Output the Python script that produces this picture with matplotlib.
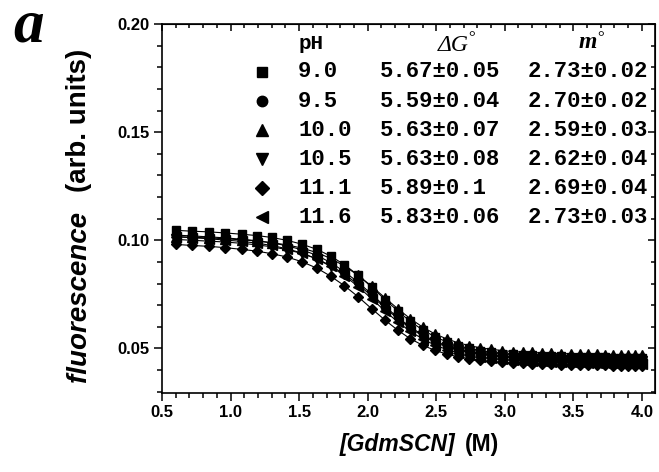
import matplotlib
matplotlib.use("Agg")
import matplotlib.pyplot as plt
from matplotlib.ticker import MultipleLocator, FormatStrFormatter

# GdmSCN concentration (M)
x = [0.60, 0.72, 0.84, 0.96, 1.08, 1.19, 1.30, 1.41, 1.52, 1.63,
     1.73, 1.83, 1.93, 2.03, 2.13, 2.22, 2.31, 2.40, 2.49, 2.58,
     2.66, 2.74, 2.82, 2.90, 2.98, 3.06, 3.13, 3.20, 3.27, 3.34,
     3.41, 3.48, 3.55, 3.61, 3.67, 3.73, 3.79, 3.85, 3.90, 3.95, 4.00]

ph_90 = [.1046, .1042, .1039, .1034, .1028, .1022, .1013, .1000, .0982, .0958,
         .0927, .0887, .0839, .0783, .0724, .0673, .0625, .0586, .0554, .0529,
         .0512, .0500, .0490, .0482, .0476, .0472, .0470, .0468, .0466, .0465,
         .0463, .0462, .0461, .0460, .0459, .0458, .0457, .0457, .0456, .0456, .0455]
ph_95 = [.1024, .1020, .1016, .1011, .1005, .0998, .0988, .0975, .0956, .0930,
         .0897, .0855, .0806, .0750, .0692, .0643, .0599, .0563, .0534, .0511,
         .0496, .0486, .0477, .0470, .0465, .0461, .0459, .0457, .0455, .0454,
         .0453, .0451, .0451, .0450, .0449, .0448, .0447, .0447, .0446, .0446, .0445]
ph_100 = [.1017, .1014, .1011, .1007, .1002, .0997, .0989, .0979, .0964, .0943,
          .0916, .0881, .0838, .0787, .0732, .0683, .0638, .0599, .0567, .0543,
          .0526, .0513, .0503, .0496, .0490, .0485, .0483, .0481, .0479, .0477,
          .0476, .0475, .0474, .0473, .0472, .0471, .0470, .0470, .0469, .0469, .0468]
ph_105 = [.1004, .1000, .0996, .0992, .0986, .0979, .0970, .0957, .0939, .0914,
          .0883, .0844, .0796, .0742, .0686, .0637, .0594, .0558, .0529, .0506,
          .0492, .0481, .0472, .0466, .0460, .0456, .0454, .0452, .0450, .0449,
          .0448, .0446, .0446, .0445, .0444, .0443, .0442, .0442, .0441, .0441, .0440]
ph_111 = [.0981, .0976, .0972, .0966, .0958, .0950, .0938, .0923, .0901, .0871,
          .0834, .0790, .0739, .0683, .0629, .0584, .0545, .0515, .0491, .0473,
          .0461, .0453, .0445, .0440, .0436, .0433, .0431, .0429, .0428, .0427,
          .0425, .0424, .0423, .0422, .0421, .0421, .0420, .0420, .0419, .0419, .0418]
ph_116 = [.1016, .1012, .1007, .1001, .0995, .0987, .0976, .0961, .0941, .0914,
          .0879, .0837, .0786, .0729, .0671, .0622, .0579, .0544, .0515, .0494,
          .0479, .0469, .0461, .0454, .0450, .0446, .0444, .0442, .0440, .0439,
          .0437, .0436, .0435, .0434, .0433, .0433, .0432, .0432, .0431, .0431, .0430]

series = [ph_90, ph_95, ph_100, ph_105, ph_111, ph_116]
ph_labels = ["9.0", "9.5", "10.0", "10.5", "11.1", "11.6"]
dg_labels = ["5.67±0.05", "5.59±0.04", "5.63±0.07", "5.63±0.08", "5.89±0.1", "5.83±0.06"]
m_labels = ["2.73±0.02", "2.70±0.02", "2.59±0.03", "2.62±0.04", "2.69±0.04", "2.73±0.03"]
markers = ["s", "o", "^", "v", "D", "<"]
msizes = [5.5, 6, 6.5, 6.5, 5.5, 6.5]

fig = plt.figure(figsize=(6.59, 4.72), dpi=100)
ax = fig.add_axes([0.2458, 0.168, 0.748, 0.781])

for y, mk, ms in zip(series, markers, msizes):
    ax.plot(x, y, color="black", lw=0.8, marker=mk, ms=ms,
            mfc="black", mec="black")

ax.set_xlim(0.5, 4.095)
ax.set_ylim(0.0295, 0.20)
ax.xaxis.set_major_locator(MultipleLocator(0.5))
ax.xaxis.set_minor_locator(MultipleLocator(0.1))
ax.yaxis.set_major_locator(MultipleLocator(0.05))
ax.yaxis.set_minor_locator(MultipleLocator(0.01))
ax.xaxis.set_major_formatter(FormatStrFormatter("%.1f"))
ax.yaxis.set_major_formatter(FormatStrFormatter("%.2f"))
ax.tick_params(which="both", direction="out", top=False, right=False, width=1.1)
ax.tick_params(which="major", length=6, pad=3)
ax.tick_params(which="minor", length=3.5)
for lab in ax.get_xticklabels() + ax.get_yticklabels():
    lab.set_fontfamily("Liberation Sans")
    lab.set_fontweight("bold")
    lab.set_fontsize(12)
for s in ax.spines.values():
    s.set_linewidth(1.2)

# inward ticks on top and right
sec_x = ax.secondary_xaxis("top")
sec_x.xaxis.set_major_locator(MultipleLocator(0.5))
sec_x.xaxis.set_minor_locator(MultipleLocator(0.1))
sec_x.tick_params(which="both", direction="in", labeltop=False, width=1.1)
sec_x.tick_params(which="major", length=5)
sec_x.tick_params(which="minor", length=3)
sec_y = ax.secondary_yaxis("right")
sec_y.yaxis.set_major_locator(MultipleLocator(0.05))
sec_y.yaxis.set_minor_locator(MultipleLocator(0.01))
sec_y.tick_params(which="both", direction="in", labelright=False, width=1.1)
sec_y.tick_params(which="major", length=5)
sec_y.tick_params(which="minor", length=3)

# table-style legend
mono = dict(fontfamily="Liberation Mono", fontweight="bold", fontsize=16)
ax.text(0.276, 0.932, "pH", transform=ax.transAxes, va="baseline", ha="left",
        fontfamily="Liberation Mono", fontweight="bold", fontsize=15)
ax.text(0.560, 0.926, "ΔG", transform=ax.transAxes, va="baseline", ha="left",
        fontfamily="Liberation Serif", style="italic", fontsize=17)
ax.text(0.622, 0.952, "°", transform=ax.transAxes, va="baseline", ha="left",
        fontfamily="Liberation Serif", fontsize=12)
ax.text(0.846, 0.935, "m", transform=ax.transAxes, va="baseline", ha="left",
        fontfamily="Liberation Serif", style="italic", fontweight="bold", fontsize=17)
ax.text(0.884, 0.952, "°", transform=ax.transAxes, va="baseline", ha="left",
        fontfamily="Liberation Serif", fontsize=12)
for i in range(len(series)):
    ry = 0.870 - i * 0.0788
    ax.plot([0.203], [ry], marker=markers[i], ms=msizes[i] + 1.5, color="black",
            transform=ax.transAxes, clip_on=False, ls="none")
    ax.text(0.276, ry, ph_labels[i], transform=ax.transAxes, va="center", ha="left", **mono)
    ax.text(0.442, ry, dg_labels[i], transform=ax.transAxes, va="center", ha="left", **mono)
    ax.text(0.742, ry, m_labels[i], transform=ax.transAxes, va="center", ha="left", **mono)

# axis labels with mixed styles
fig.text(79 / 659, 1 - 382 / 472, "fluorescence", rotation=90, ha="center", va="bottom",
         fontfamily="Liberation Sans", fontweight="bold", style="italic", fontsize=20)
fig.text(79 / 659, 1 - 192 / 472, "(arb. units)", rotation=90, ha="center", va="bottom",
         fontfamily="Liberation Sans", fontweight="bold", fontsize=20)
fig.text(340 / 659, 1 - 445 / 472, "[GdmSCN]", ha="left", va="center",
         fontfamily="Liberation Sans", fontweight="bold", style="italic", fontsize=16.5)
fig.text(465 / 659, 1 - 445 / 472, "(M)", ha="left", va="center",
         fontfamily="Liberation Sans", fontweight="bold", fontsize=16.5)

fig.text(0.02, 1 - 42 / 472, "a", ha="left", va="baseline",
         fontfamily="Liberation Serif", fontweight="bold", style="italic", fontsize=44)

fig.savefig("out.png", dpi=100)
